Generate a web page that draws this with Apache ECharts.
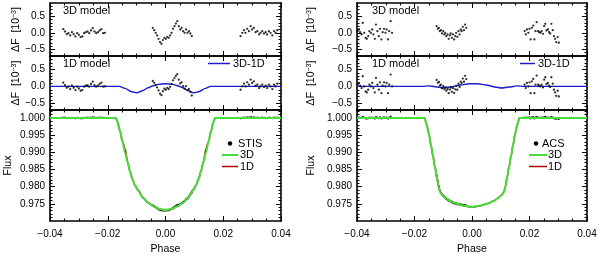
<!DOCTYPE html>
<html><head><meta charset="utf-8">
<script src="https://cdn.jsdelivr.net/npm/echarts@6/dist/echarts.min.js"></script>
<style>html,body{margin:0;padding:0;background:#fff}#c{width:600px;height:256px}</style>
</head><body><div id="c"></div>
<script>
// ---------------- DATA ----------------
// tick labels
const phaseTicks = [-0.04, -0.02, 0.00, 0.02, 0.04];
const residTicks = [-0.5, 0.0, 0.5];
const fluxTicks = [0.975, 0.980, 0.985, 0.990, 0.995, 1.000];

// STIS (left) observations: phase, residuals (10^-3) vs 3D and 1D models, flux
const stisPhase = [
 -0.0354,-0.0348,-0.0342,-0.0336,-0.0330,-0.0324,-0.0318,-0.0312,-0.0306,-0.0300,-0.0294,-0.0288,-0.0282,-0.0276,-0.0270,-0.0264,-0.0258,-0.0252,-0.0246,-0.0240,-0.0234,-0.0228,-0.0222,-0.0216,-0.0210,
 -0.0044,-0.0039,-0.0034,-0.0029,-0.0024,-0.0019,-0.0014,-0.0009,-0.0004,0.0001,0.0006,0.0011,0.0016,0.0021,0.0026,0.0031,0.0036,0.0041,0.0046,0.0051,0.0056,0.0061,0.0066,0.0071,0.0076,0.0081,0.0086,0.0091,
 0.0260,0.0266,0.0272,0.0277,0.0283,0.0289,0.0295,0.0300,0.0306,0.0312,0.0318,0.0324,0.0329,0.0335,0.0341,0.0347,0.0352,0.0358,0.0364,0.0370,0.0376,0.0381,0.0387];
const stisRes3D = [
 0.11,0.04,-0.04,-0.01,-0.08,0.02,-0.04,-0.11,-0.01,-0.06,-0.13,-0.11,-0.01,0.02,0.04,-0.01,0.07,0.14,0.04,-0.01,0.02,0.07,0.11,-0.01,0.00,
 0.15,0.08,0.00,-0.08,-0.18,-0.28,-0.33,-0.22,-0.15,-0.18,-0.12,-0.15,-0.08,0.00,0.12,0.20,0.28,0.35,0.20,0.10,0.15,0.05,0.00,0.10,0.00,0.05,-0.02,-0.10,
 -0.10,0.00,0.08,0.00,0.12,0.05,0.20,0.10,0.15,0.02,0.05,-0.05,0.00,0.05,-0.02,0.02,-0.05,0.05,0.00,-0.08,0.05,0.00,0.08];
const stisRes1D = [
 0.11,0.04,-0.04,-0.01,-0.08,0.02,-0.04,-0.11,-0.01,-0.06,-0.13,-0.11,-0.01,0.02,0.04,-0.01,0.07,0.14,0.04,-0.01,0.02,0.07,0.11,-0.01,0.00,
 0.16,0.105,0.04,-0.03,-0.12,-0.215,-0.26,-0.145,-0.07,-0.10,-0.044,-0.078,-0.012,0.064,0.178,0.245,0.31,0.365,0.20,0.085,0.12,0.005,-0.07,0.01,-0.11,-0.08,-0.17,-0.27,
 -0.10,0.00,0.08,0.00,0.12,0.05,0.20,0.10,0.15,0.02,0.05,-0.05,0.00,0.05,-0.02,0.02,-0.05,0.05,0.00,-0.08,0.05,0.00,0.08];
const stisFlux = [
 1.00011,1.00004,0.99996,0.99999,0.99992,1.00002,0.99996,0.99989,0.99999,0.99994,0.99987,0.99989,0.99999,1.00002,1.00004,0.99999,1.00007,1.00014,1.00004,0.99999,1.00002,1.00007,1.00011,0.99999,1.00000,
 0.97455,0.97428,0.97400,0.97372,0.97342,0.97322,0.97307,0.97308,0.97305,0.97302,0.97308,0.97315,0.97332,0.97350,0.97382,0.97410,0.97438,0.97465,0.97470,0.97490,0.97525,0.97545,0.97580,0.97630,0.97650,0.97715,0.97768,0.97820,
 0.99990,1.00000,1.00008,1.00000,1.00012,1.00005,1.00020,1.00010,1.00015,1.00002,1.00005,0.99995,1.00000,1.00005,0.99998,1.00002,0.99995,1.00005,1.00000,0.99992,1.00005,1.00000,1.00008];

// STIS models
const stisModelPhase = [-0.0400,-0.0172,-0.0166,-0.0158,-0.0149,-0.0140,-0.0131,-0.0123,-0.0115,-0.0106,-0.0095,-0.0077,-0.0060,-0.0042,-0.0020,0.0000,0.0020,0.0042,0.0060,0.0077,0.0095,0.0106,0.0115,0.0123,0.0131,0.0140,0.0149,0.0158,0.0166,0.0172,0.0400];
const stisModel3D = [1.0000,1.0000,0.9988,0.9963,0.9931,0.9899,0.9870,0.9844,0.9822,0.9803,0.9788,0.9766,0.9753,0.9743,0.9735,0.9732,0.9735,0.9743,0.9753,0.9766,0.9788,0.9803,0.9822,0.9844,0.9870,0.9899,0.9931,0.9963,0.9988,1.0000,1.0000];
const stisModel1D = [1.0000,1.0000,0.9988,0.9963,0.99313,0.99096,0.98714,0.98454,0.98238,0.98048,0.97898,0.97672,0.97534,0.97428,0.97344,0.97312,0.97344,0.97428,0.97534,0.97672,0.97898,0.98048,0.98238,0.98454,0.98714,0.99096,0.99313,0.9963,0.9988,1.0000,1.0000];
const stisDiffPhase = [-0.0400,-0.0160,-0.0140,-0.0120,-0.0100,-0.0080,-0.0060,-0.0045,-0.0025,0.0000,0.0025,0.0045,0.0060,0.0080,0.0098,0.0118,0.0138,0.0156,0.0400];
const stisDiff = [0,0,-0.06,-0.15,-0.19,-0.13,-0.04,0.01,0.06,0.08,0.06,0.01,-0.04,-0.13,-0.19,-0.15,-0.06,0,0];

// ACS (right) observations
const acsPhase = [
 -0.0398,-0.0393,-0.0389,-0.0384,-0.0380,-0.0375,-0.0370,-0.0366,-0.0361,-0.0357,-0.0352,-0.0347,-0.0343,-0.0338,-0.0334,-0.0329,-0.0324,-0.0320,-0.0315,-0.0311,-0.0306,-0.0301,-0.0297,-0.0292,-0.0288,-0.0283,-0.0278,
 -0.0123,-0.0119,-0.0115,-0.0112,-0.0108,-0.0104,-0.0100,-0.0096,-0.0093,-0.0089,-0.0085,-0.0081,-0.0077,-0.0074,-0.0070,-0.0066,-0.0062,-0.0058,-0.0055,-0.0051,-0.0047,-0.0043,-0.0039,-0.0036,-0.0032,-0.0028,-0.0024,-0.0020,
 0.0183,0.0187,0.0191,0.0196,0.0200,0.0204,0.0208,0.0213,0.0217,0.0221,0.0225,0.0230,0.0234,0.0238,0.0242,0.0247,0.0251,0.0255,0.0259,0.0264,0.0268,0.0272,0.0276,0.0281,0.0285,0.0289,0.0293,0.0298,0.0302];
const acsRes3D = [
 0.05,0.10,0.02,-0.05,0.30,0.00,-0.15,-0.18,-0.10,0.05,0.00,0.10,-0.05,-0.18,0.25,0.05,-0.10,0.12,-0.20,0.02,0.12,0.00,0.10,-0.20,0.05,0.35,0.00,
 0.20,0.12,0.15,0.05,0.08,-0.02,0.05,-0.05,0.00,-0.10,-0.05,-0.18,-0.08,-0.02,-0.15,-0.05,-0.20,-0.10,0.00,-0.12,0.05,-0.05,0.10,0.05,0.18,0.08,0.25,0.15,
 0.05,-0.05,0.10,0.00,0.12,-0.20,0.15,0.22,-0.20,0.05,0.32,0.05,0.02,0.00,0.05,-0.03,0.20,0.27,0.07,0.10,0.02,-0.02,0.27,0.08,-0.10,-0.18,-0.28,-0.13,-0.30];
const acsRes1D = [
 0.05,0.10,0.02,-0.05,0.30,0.00,-0.15,-0.18,-0.10,0.05,0.00,0.10,-0.05,-0.18,0.25,0.05,-0.10,0.12,-0.20,0.02,0.12,0.00,0.10,-0.20,0.05,0.35,0.00,
 0.19,0.105,0.13,0.025,0.05,-0.055,0.01,-0.086,-0.033,-0.13,-0.075,-0.20,-0.095,-0.033,-0.16,-0.053,-0.197,-0.09,0.015,-0.10,0.078,-0.015,0.142,0.097,0.232,0.137,0.312,0.217,
 0.05,-0.05,0.10,0.00,0.12,-0.20,0.15,0.22,-0.20,0.05,0.32,0.05,0.02,0.00,0.05,-0.03,0.20,0.27,0.07,0.10,0.02,-0.02,0.27,0.08,-0.10,-0.18,-0.28,-0.13,-0.30];
const acsFlux = [
 1.00005,1.00010,1.00002,0.99995,1.00030,1.00000,0.99985,0.99982,0.99990,1.00005,1.00000,1.00010,0.99995,0.99982,1.00025,1.00005,0.99990,1.00012,0.99980,1.00002,1.00012,1.00000,1.00010,0.99980,1.00005,1.00035,1.00000,
 0.98320,0.98162,0.98005,0.97885,0.97818,0.97768,0.97735,0.97695,0.97680,0.97640,0.97625,0.97592,0.97582,0.97578,0.97545,0.97535,0.97510,0.97510,0.97510,0.97488,0.97495,0.97475,0.97480,0.97465,0.97468,0.97458,0.97465,0.97445,
 1.00005,0.99995,1.00010,1.00000,1.00012,0.99980,1.00015,1.00022,0.99980,1.00005,1.00032,1.00005,1.00002,1.00000,1.00005,0.99997,1.00020,1.00027,1.00007,1.00010,1.00002,0.99998,1.00027,1.00008,0.99990,0.99982,0.99972,0.99987,0.99970];

// ACS models
const acsModelPhase = [-0.0400,-0.0165,-0.0158,-0.0150,-0.0143,-0.0136,-0.0129,-0.0122,-0.0116,-0.0111,-0.0105,-0.0100,-0.0090,-0.0075,-0.0056,-0.0030,0.0000,0.0030,0.0056,0.0075,0.0090,0.0100,0.0105,0.0111,0.0116,0.0122,0.0129,0.0136,0.0143,0.0150,0.0158,0.0165,0.0400];
const acsModel3D = [1.0000,1.0000,0.9982,0.9954,0.9922,0.9890,0.9858,0.9826,0.9800,0.9784,0.9777,0.9773,0.9766,0.9758,0.9751,0.9745,0.9741,0.9745,0.9751,0.9758,0.9766,0.9773,0.9777,0.9784,0.9800,0.9826,0.9858,0.9890,0.9922,0.9954,0.9982,1.0000,1.0000];
const acsModel1D = [1.0000,1.0000,0.99820,0.99539,0.99219,0.98900,0.98581,0.98262,0.98003,0.97844,0.97774,0.97734,0.97663,0.97581,0.97509,0.97445,0.97402,0.97445,0.97509,0.97581,0.97663,0.97734,0.97774,0.97844,0.98003,0.98262,0.98581,0.98900,0.99219,0.99539,0.99820,1.0000,1.0000];
const acsDiffPhase = [-0.0400,-0.0175,-0.0150,-0.0128,-0.0100,-0.0070,-0.0040,-0.0010,0.0020,0.0050,0.0080,0.0103,0.0130,0.0155,0.0180,0.0400];
const acsDiff = [0,0,0.015,-0.01,-0.04,-0.01,0.04,0.08,0.08,0.04,-0.02,-0.05,-0.02,0.015,0,0];

// ---------------- CHART ----------------
const FONT = "'Liberation Sans', Arial, Helvetica, sans-serif";
const zip = (a, b) => a.map((v, i) => [v, b[i]]);
const sgn = (v, d) => (v < -1e-9 ? '\u2212' : '') + Math.abs(v).toFixed(d);

function steps(a, b, s) { const r = []; const n = Math.round((b - a) / s); for (let i = 0; i <= n; i++) r.push(+(a + i * s).toFixed(6)); return r; }
const phaseMinor = steps(-0.04, 0.04, 0.005);
const residMinor = steps(-0.6, 0.8, 0.1);
const fluxMinor = steps(0.971, 1.002, 0.001);

const grids = [], xAxes = [], yAxes = [], series = [];
const lineBlack = { color: '#000', width: 1.6 };

function makePanel(gx, row, y, showX, yName, yNameGap, nameRich) {
  const gi = grids.length;
  grids.push({ left: gx.left, width: gx.width, top: row.top, height: row.height, show: false });
  const xi = xAxes.length, yi = yAxes.length;
  const bx = { type: 'value', gridIndex: gi, min: -0.04, max: 0.04, splitLine: { show: false } };
  const tick = (vals, len) => ({ show: true, inside: true, length: len, customValues: vals, lineStyle: { color: '#000', width: 1 } });
  xAxes.push(Object.assign({}, bx, {
    position: 'bottom', axisLine: { show: true, onZero: false, lineStyle: lineBlack }, axisTick: tick(phaseTicks, 5),
    axisLabel: { show: showX, customValues: phaseTicks, formatter: v => sgn(v, 2), margin: 8, fontSize: 10, color: '#000', fontFamily: FONT },
    name: showX ? 'Phase' : '', nameLocation: 'middle', nameGap: 23, nameTextStyle: { fontSize: 10.5, color: '#000', fontFamily: FONT }
  }));
  xAxes.push(Object.assign({}, bx, { position: 'bottom', axisLine: { show: false, onZero: false }, axisTick: tick(phaseMinor, 2.5), axisLabel: { show: false } }));
  xAxes.push(Object.assign({}, bx, { position: 'top', axisLine: { show: true, onZero: false, lineStyle: lineBlack }, axisTick: tick(phaseTicks, 5), axisLabel: { show: false } }));
  xAxes.push(Object.assign({}, bx, { position: 'top', axisLine: { show: false, onZero: false }, axisTick: tick(phaseMinor, 2.5), axisLabel: { show: false } }));
  const by = { type: 'value', gridIndex: gi, min: y.min, max: y.max, splitLine: { show: false } };
  yAxes.push(Object.assign({}, by, {
    position: 'left', axisLine: { show: true, onZero: false, lineStyle: lineBlack }, axisTick: tick(y.major, 5),
    axisLabel: { show: true, customValues: y.major, formatter: v => sgn(v, y.dec), margin: 5, fontSize: 10, color: '#000', fontFamily: FONT },
    name: yName, nameLocation: 'middle', nameGap: yNameGap,
    nameTextStyle: { fontSize: 10.5, color: '#000', fontFamily: FONT, rich: nameRich }
  }));
  yAxes.push(Object.assign({}, by, { position: 'left', axisLine: { show: false, onZero: false }, axisTick: tick(y.minor, 2.5), axisLabel: { show: false } }));
  yAxes.push(Object.assign({}, by, { position: 'right', axisLine: { show: true, onZero: false, lineStyle: lineBlack }, axisTick: tick(y.major, 5), axisLabel: { show: false } }));
  yAxes.push(Object.assign({}, by, { position: 'right', axisLine: { show: false, onZero: false }, axisTick: tick(y.minor, 2.5), axisLabel: { show: false } }));
  return { xi, yi };
}

const richName = {
  a: { fontSize: 10.5, fontFamily: FONT, color: '#000' },
  s: { fontSize: 7, fontFamily: FONT, color: '#000', verticalAlign: 'top', padding: [0, 0, 4, 0] }
};
const dfName = '{a|\u0394F  [10}{s|\u22123}{a|]}';
const residY = { min: -0.7, max: 0.9, major: residTicks, minor: residMinor, dec: 1 };
const fluxY = { min: 0.970, max: 1.0023, major: fluxTicks, minor: fluxMinor, dec: 3 };

const GL = { left: 50, width: 231 }, GR = { left: 357, width: 230 };
const ROW_T = { top: 3, height: 53 }, ROW_M = { top: 56, height: 54 }, ROW_B = { top: 110, height: 117 };

const GREEN = '#44dd3c', RED = '#b00000', BLUE = '#1c1cc8';

function addSide(G, gapDF, gapFlux, phase, r3, r1, flux, mPh, m3, m1, dPh, dv, label) {
  const t = makePanel(G, ROW_T, residY, false, dfName, gapDF, richName);
  const m = makePanel(G, ROW_M, residY, false, dfName, gapDF, richName);
  const b = makePanel(G, ROW_B, fluxY, true, 'Flux', gapFlux, undefined);
  const sc = (ax, data, name) => ({ type: 'scatter', name, xAxisIndex: ax.xi, yAxisIndex: ax.yi, data, symbol: 'circle', symbolSize: 2.3, itemStyle: { color: '#000' }, silent: true, z: 2 });
  const ln = (ax, data, name, color, w, z) => ({ type: 'line', name, xAxisIndex: ax.xi, yAxisIndex: ax.yi, data, showSymbol: false, symbol: 'none', smooth: 0.3, smoothMonotone: 'x', lineStyle: { color, width: w }, silent: true, z });
  series.push(sc(t, zip(phase, r3), label + ' 3D residuals'));
  series.push(ln(m, zip(dPh, dv), '3D-1D', BLUE, 1.4, 2));
  series.push(sc(m, zip(phase, r1), label + ' 1D residuals'));
  series.push(sc(b, zip(phase, flux), label));
  series.push(ln(b, zip(mPh, m1), '1D', RED, 1.6, 3));
  series.push(ln(b, zip(mPh, m3), '3D', GREEN, 2, 4));
}

addSide(GL, 18, 36, stisPhase, stisRes3D, stisRes1D, stisFlux, stisModelPhase, stisModel3D, stisModel1D, stisDiffPhase, stisDiff, 'STIS');
addSide(GR, 40, 40, acsPhase, acsRes3D, acsRes1D, acsFlux, acsModelPhase, acsModel3D, acsModel1D, acsDiffPhase, acsDiff, 'ACS');

const txt = (x, y, s, size) => ({ type: 'text', x, y, silent: true, style: { text: s, font: (size || 11) + 'px ' + FONT, fill: '#000', verticalAlign: 'middle' } });
const seg = (x1, x2, y, color, w) => ({ type: 'line', silent: true, shape: { x1, y1: y, x2, y2: y }, style: { stroke: color, lineWidth: w || 1.5 } });

const graphic = [
  txt(63, 11, '3D model'), txt(63, 64, '1D model'),
  txt(372, 11, '3D model'), txt(372, 64, '1D model'),
  seg(208, 230, 63.5, BLUE), txt(233, 63.5, '3D-1D'),
  seg(520, 535, 63.5, BLUE), txt(538, 63.5, '3D-1D'),
  { type: 'circle', silent: true, shape: { cx: 230, cy: 143.5, r: 2.2 }, style: { fill: '#000' } }, txt(238, 143.5, 'STIS'),
  seg(222, 238, 155, GREEN, 2), txt(240, 155, '3D'),
  seg(222, 238, 166.5, RED, 1.5), txt(240, 166.5, '1D'),
  { type: 'circle', silent: true, shape: { cx: 536, cy: 143.5, r: 2.2 }, style: { fill: '#000' } }, txt(542, 143.5, 'ACS'),
  seg(529, 547, 155, GREEN, 2), txt(548, 155, '3D'),
  seg(529, 547, 166.5, RED, 1.5), txt(548, 166.5, '1D')
];

const chart = echarts.init(document.getElementById('c'), null, { renderer: 'canvas' });
chart.setOption({
  animation: false,
  backgroundColor: '#fff',
  textStyle: { fontFamily: FONT },
  grid: grids, xAxis: xAxes, yAxis: yAxes, series, graphic
});
</script></body></html>
